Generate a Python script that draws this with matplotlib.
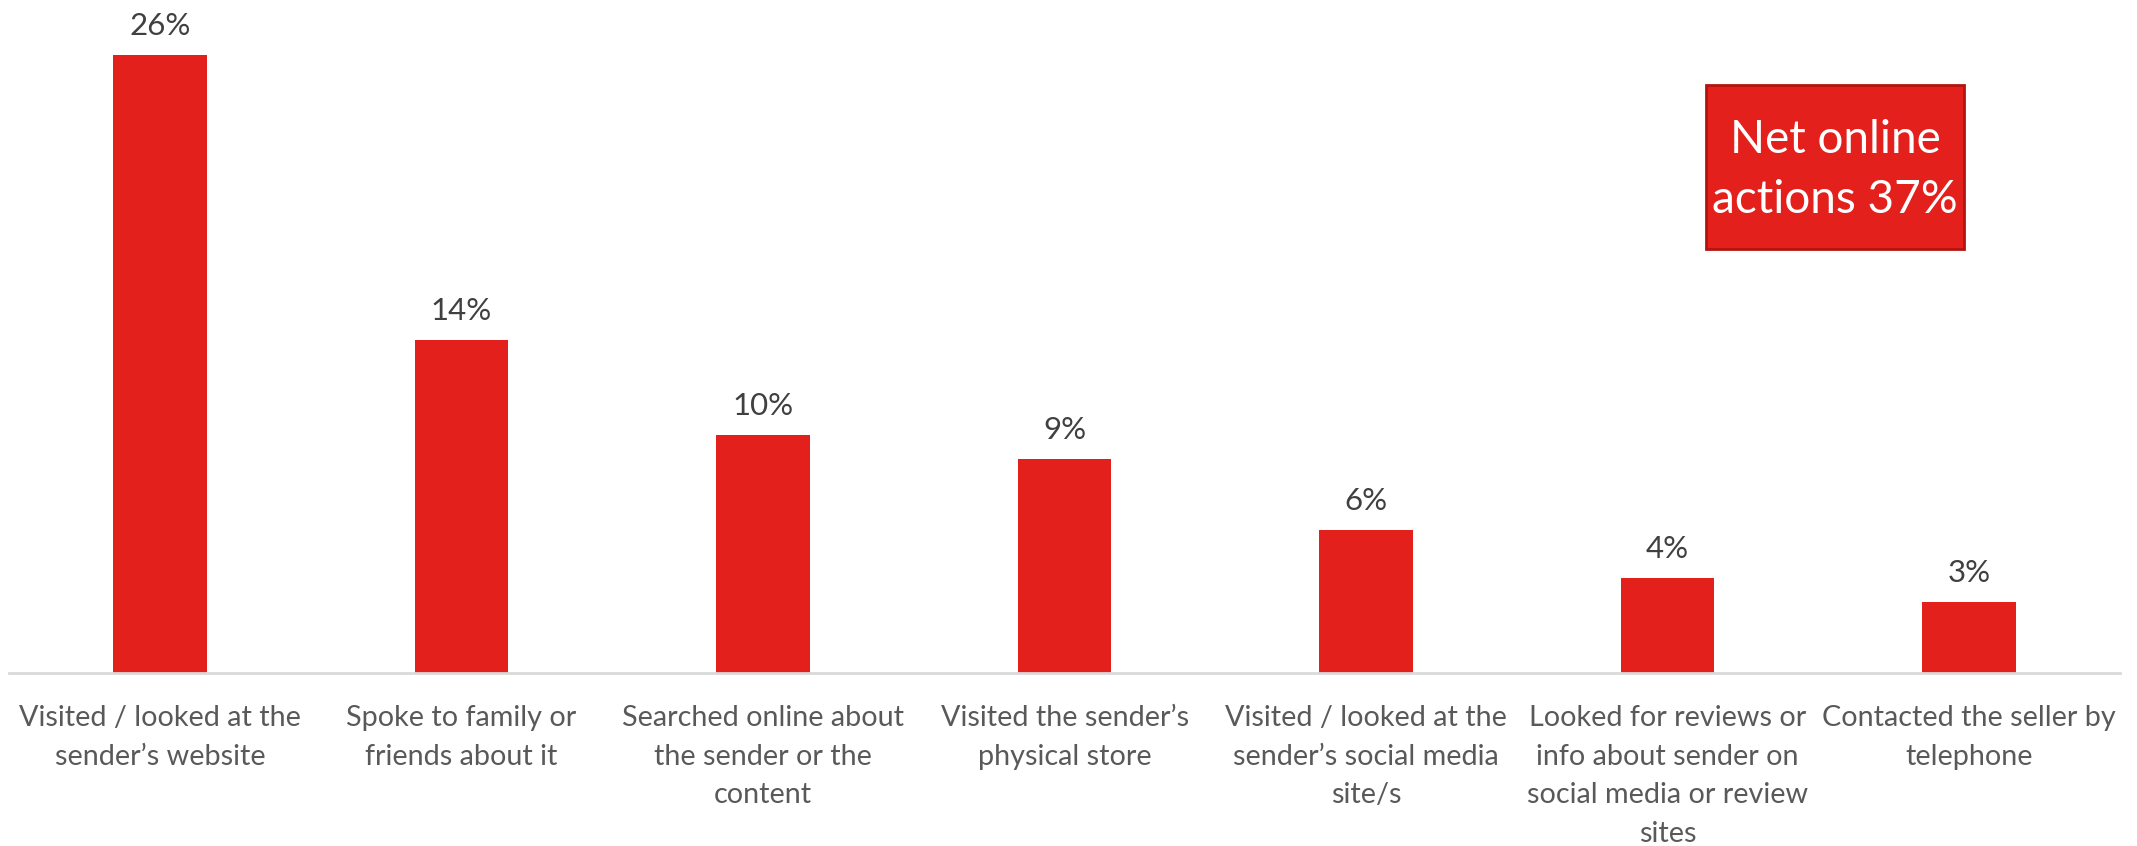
import matplotlib
matplotlib.use("Agg")
import matplotlib.pyplot as plt
from matplotlib.patches import FancyBboxPatch

plt.rcParams['font.family'] = ['Lato', 'DejaVu Sans']

categories = [
    "Visited / looked at the\nsender\u2019s website",
    "Spoke to family or\nfriends about it",
    "Searched online about\nthe sender or the\ncontent",
    "Visited the sender\u2019s\nphysical store",
    "Visited / looked at the\nsender\u2019s social media\nsite/s",
    "Looked for reviews or\ninfo about sender on\nsocial media or review\nsites",
    "Contacted the seller by\ntelephone",
]
values = [26, 14, 10, 9, 6, 4, 3]
net_online = 37

RED = "#E3201B"
W, H = 2137, 846
fig = plt.figure(figsize=(W / 100, H / 100), dpi=100)
ax = fig.add_axes([9.3 / W, 173 / H, (2120 - 9.3) / W, 1 - 173 / H])

x = list(range(len(values)))
ax.bar(x, values, width=0.31, color=RED, zorder=2)
ax.set_xlim(-0.5, len(values) - 0.5)
ax.set_ylim(0, 28.3)

for xi, v in zip(x, values):
    ax.annotate(f"{v}%", (xi, v), xytext=(0, 15), textcoords="offset pixels",
                ha="center", va="bottom", fontsize=22.5, color="#404040")

for s in ["top", "right", "left"]:
    ax.spines[s].set_visible(False)
ax.spines["bottom"].set_color("#D9D9D9")
ax.spines["bottom"].set_linewidth(2)
ax.set_yticks([])
ax.set_xticks(x)
ax.set_xticklabels(categories, fontsize=20.7, color="#595959", linespacing=1.6)
ax.tick_params(axis="x", length=0, pad=23)

# Callout box with the net online figure
bx0, by0, bx1, by1 = 1706, 846 - 249, 1964, 846 - 84.5
box = FancyBboxPatch((bx0 / W, by0 / H), (bx1 - bx0) / W, (by1 - by0) / H,
                     boxstyle="square,pad=0", transform=fig.transFigure,
                     facecolor=RED, edgecolor="#B3140F", linewidth=2)
fig.patches.append(box)
fig.text((bx0 + bx1) / 2 / W, (by0 + by1) / 2 / H - 0.004, f"Net online\nactions {net_online}%",
         ha="center", va="center", fontsize=33, color="white", linespacing=1.52)

fig.savefig("out.png", dpi=100, facecolor="white")
